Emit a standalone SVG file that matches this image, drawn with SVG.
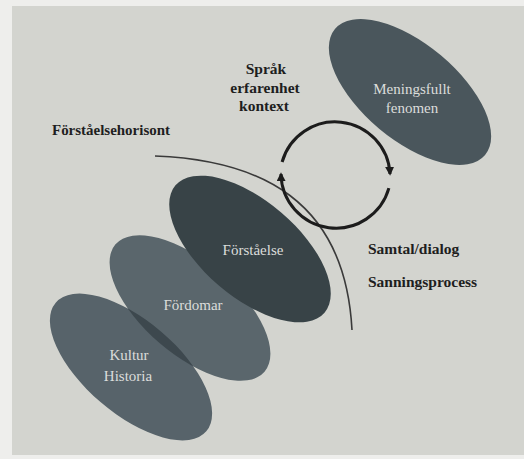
<svg xmlns="http://www.w3.org/2000/svg" width="524" height="459" viewBox="0 0 524 459">
  <style>
    .lbl { font-family: "Liberation Serif", "DejaVu Serif", serif; font-weight: bold; font-size: 15.5px; fill: #1e1e1e; }
    .in { font-family: "Liberation Serif", "DejaVu Serif", serif; font-size: 15px; fill: #dcdddb; text-anchor: middle; }
    .cyc { fill: none; stroke: #1c1c1c; stroke-width: 3; }
    .hor { fill: none; stroke: #3a3a3a; stroke-width: 1.6; }
  </style>
  <defs>
    <marker id="ah" viewBox="0 0 10 10" refX="8" refY="5" markerWidth="9" markerHeight="9" markerUnits="userSpaceOnUse" orient="auto">
      <path d="M0,0 L10,5 L0,10 z" fill="#1c1c1c"/>
    </marker>
    <clipPath id="clipFord">
      <ellipse cx="190" cy="308" rx="98" ry="46.5" transform="rotate(40.5 190 308)"/>
    </clipPath>
  </defs>

  <!-- page background -->
  <rect x="0" y="0" width="524" height="459" fill="#d3d4cf"/>
  <rect x="0" y="0" width="12" height="459" fill="#eeeeec"/>
  <rect x="0" y="0" width="524" height="6" fill="#eeeeec"/>
  <rect x="0" y="455" width="524" height="4" fill="#eeeeec"/>

  <g id="kultur">
    <ellipse cx="131" cy="367" rx="99" ry="46.5" transform="rotate(40.5 131 367)" fill="#57636a"/>
  </g>
  <g id="fordomar">
    <ellipse cx="190" cy="308" rx="98" ry="46.5" transform="rotate(40.5 190 308)" fill="#5a666c"/>
    <g clip-path="url(#clipFord)">
      <ellipse cx="131" cy="367" rx="99" ry="46.5" transform="rotate(40.5 131 367)" fill="#3d484e"/>
    </g>
  </g>
  <g id="forstaelse">
    <ellipse cx="250" cy="249" rx="98" ry="48" transform="rotate(40.5 250 249)" fill="#384347"/>
  </g>
  <g id="meningsfullt">
    <ellipse cx="410" cy="92" rx="98" ry="48" transform="rotate(40 410 92)" fill="#4a565c"/>
  </g>

  <g id="connectors">
    <path class="hor" d="M155,156 C260,160 345,200 352,330"/>
    <path class="cyc" d="M282.1,162 A55,55 0 0 1 390,174" marker-end="url(#ah)"/>
    <path class="cyc" d="M388.9,188.2 A55,55 0 0 1 281,174" marker-end="url(#ah)"/>
  </g>

  <g id="labels">
    <text class="in" x="412" y="94">Meningsfullt</text>
    <text class="in" x="412" y="113">fenomen</text>
    <text class="in" x="253" y="255">Förståelse</text>
    <text class="in" x="193" y="310">Fördomar</text>
    <text class="in" x="129" y="360">Kultur</text>
    <text class="in" x="128" y="381">Historia</text>

    <text class="lbl" x="266" y="74" text-anchor="middle">Språk</text>
    <text class="lbl" x="265" y="92.5" text-anchor="middle">erfarenhet</text>
    <text class="lbl" x="264" y="111" text-anchor="middle">kontext</text>
    <text class="lbl" x="52" y="135" textLength="118" lengthAdjust="spacingAndGlyphs">Förståelsehorisont</text>
    <text class="lbl" x="368" y="254">Samtal/dialog</text>
    <text class="lbl" x="368" y="287">Sanningsprocess</text>
  </g>
</svg>
